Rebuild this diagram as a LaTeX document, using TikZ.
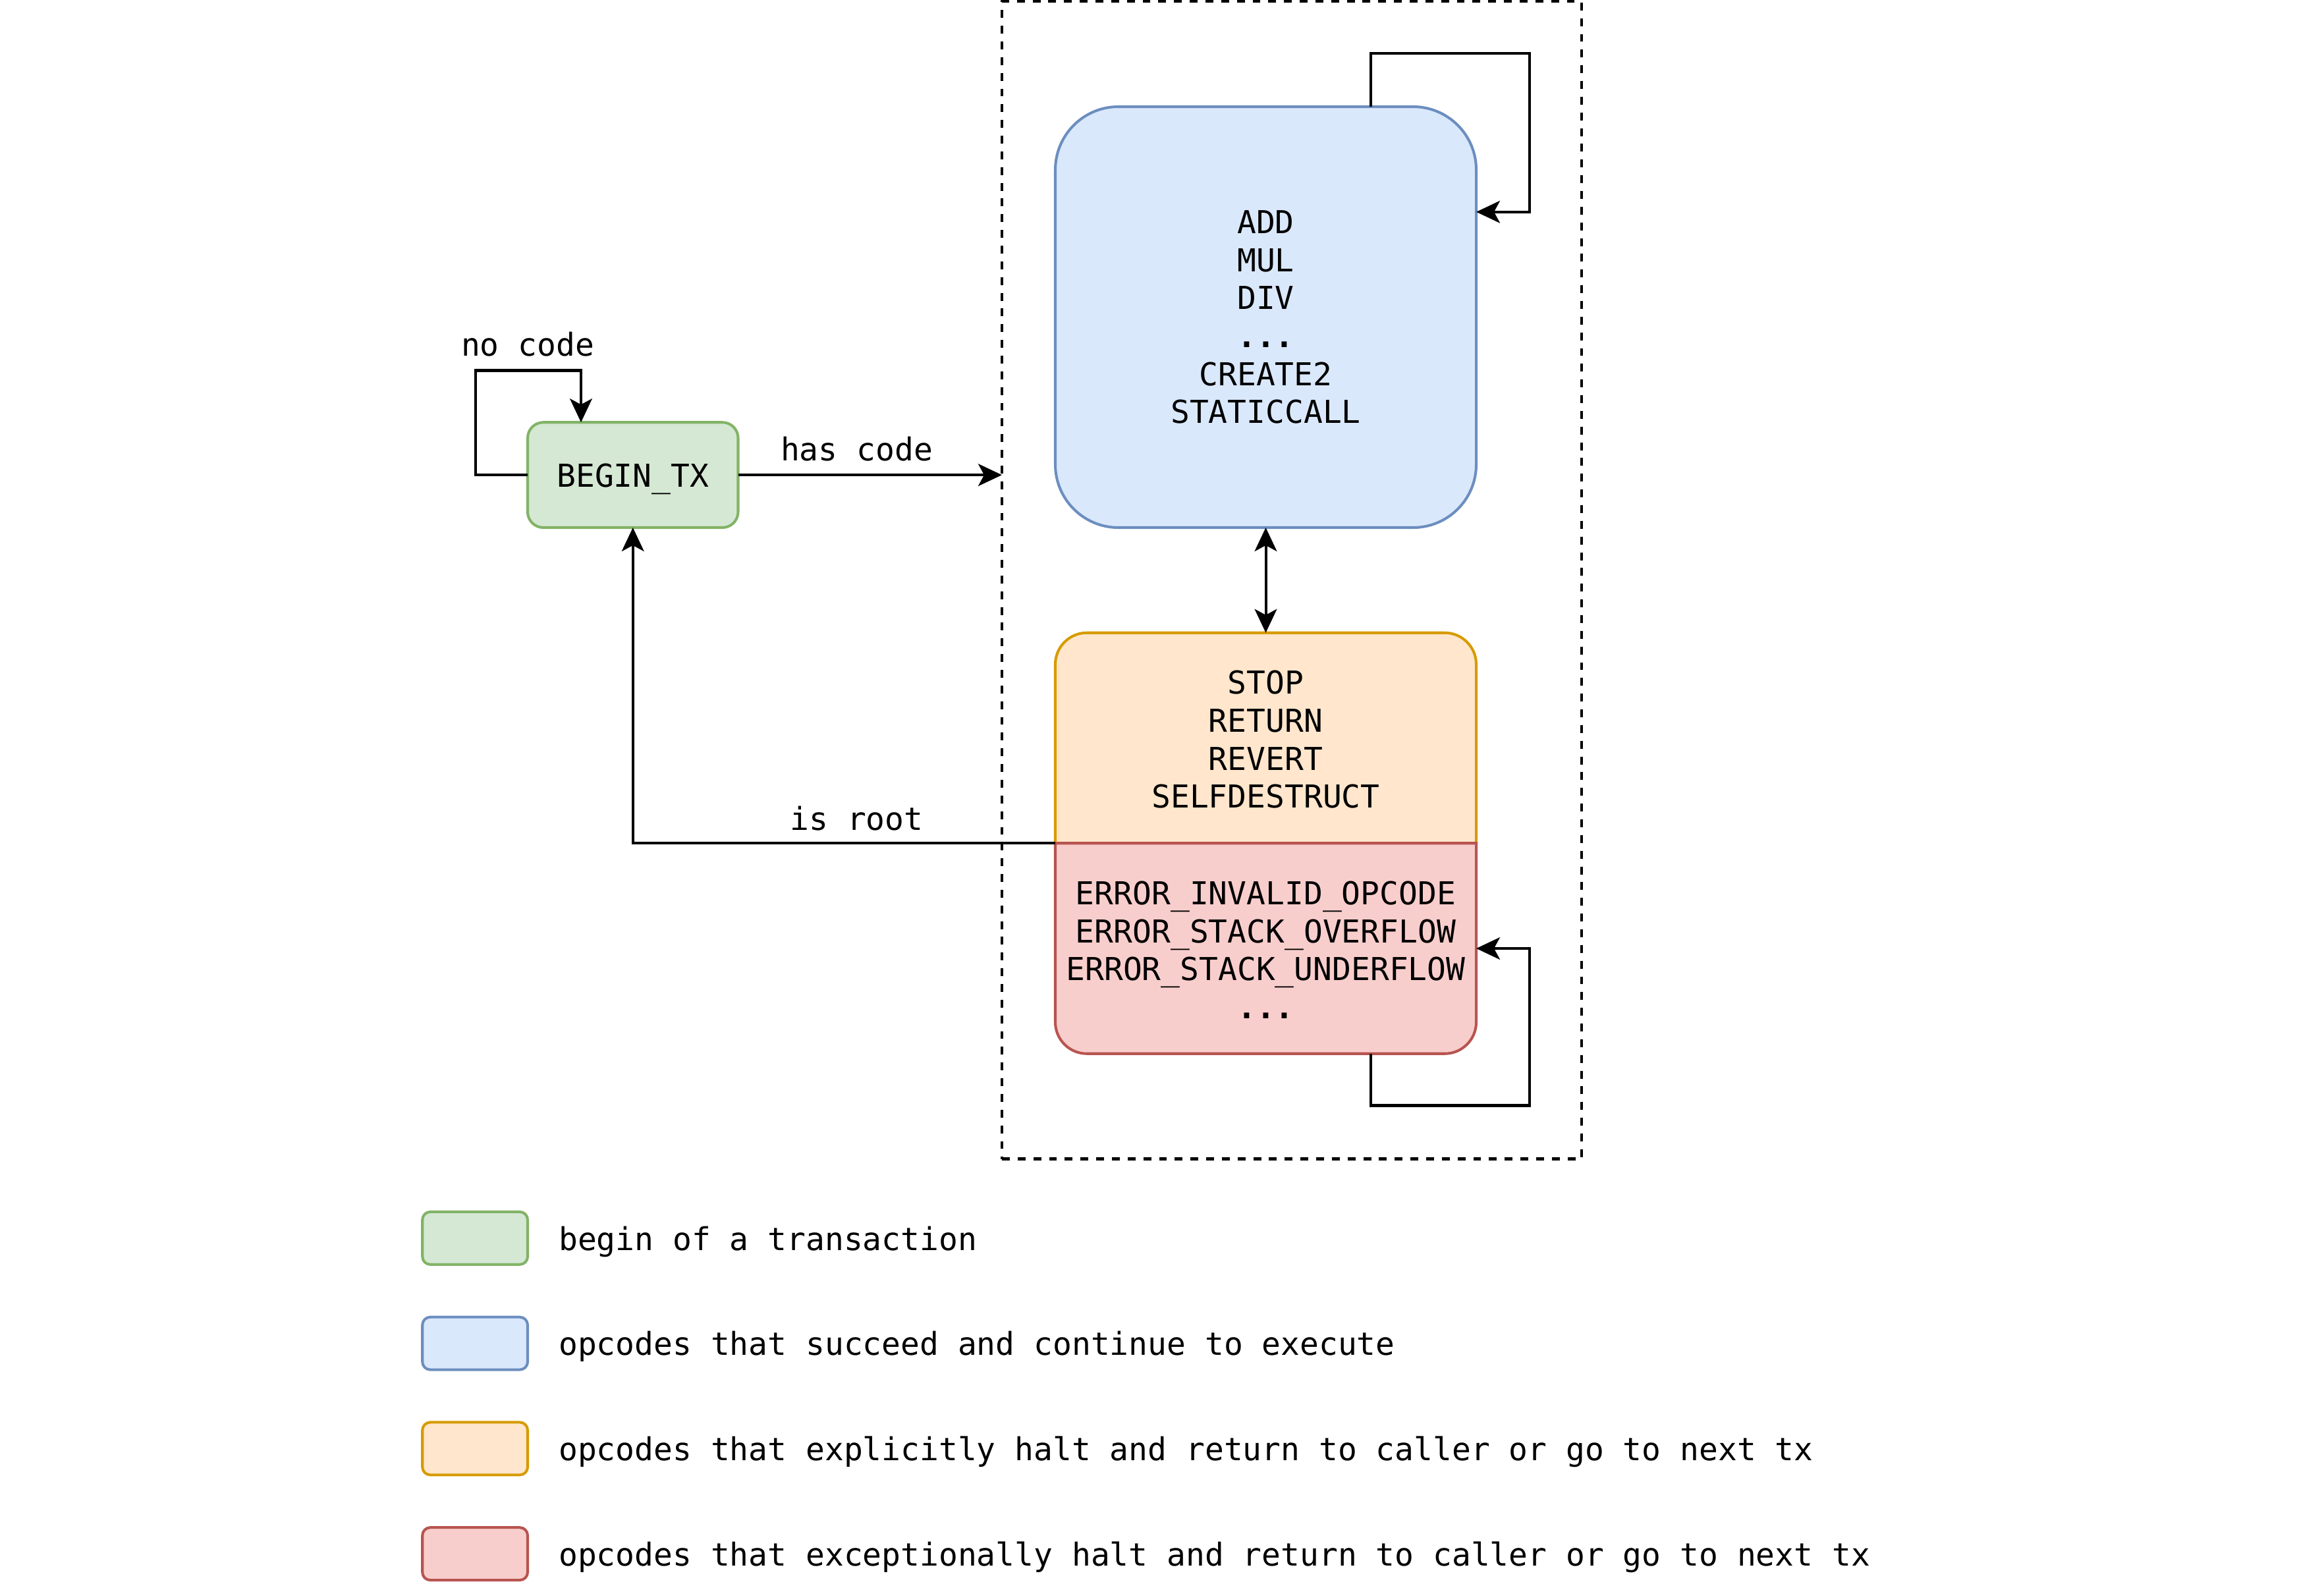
\documentclass[tikz,border=0pt]{standalone}
\usepackage{fontspec}
\setmainfont{DejaVu Sans Mono}
\setmonofont{DejaVu Sans Mono}
\usetikzlibrary{arrows.meta,calc}
\definecolor{gfill}{HTML}{D5E8D4}\definecolor{gline}{HTML}{82B366}
\definecolor{bfill}{HTML}{DAE8FC}\definecolor{bline}{HTML}{6C8EBF}
\definecolor{ofill}{HTML}{FFE6CC}\definecolor{oline}{HTML}{D79B00}
\definecolor{rfill}{HTML}{F8CECC}\definecolor{rline}{HTML}{B85450}
\begin{document}
\begin{tikzpicture}[x=1pt,y=-1pt,
  every node/.style={font=\fontsize{21.3}{25.6}\selectfont, inner sep=0pt, outer sep=0pt},
  wire/.style={line width=1.8pt, draw=black},
  arr/.style={wire, -{Stealth[length=16pt,width=15pt,inset=4pt]}},
  arrboth/.style={wire, {Stealth[length=16pt,width=15pt,inset=4pt]}-{Stealth[length=16pt,width=15pt,inset=4pt]}},
  oneline/.style={text height=16.2pt, text depth=0pt},
  gbox/.style={draw=gline, fill=gfill, line width=1.8pt, rounded corners=10.6pt, oneline},
  bbox/.style={draw=bline, fill=bfill, line width=1.8pt, rounded corners=42.6pt},
  obox/.style={draw=oline, fill=ofill, line width=1.8pt},
  rbox/.style={draw=rline, fill=rfill, line width=1.8pt},
  lbl/.style={oneline},
  legbox/.style={minimum width=71pt, minimum height=35.5pt, line width=1.8pt, rounded corners=5.3pt},
  legtxt/.style={anchor=west, oneline},
  container/.style={draw=black, line width=1.8pt, dash pattern=on 5.3pt off 5.3pt, minimum width=391pt, minimum height=781pt}
]
\useasboundingbox (0,0) rectangle (1568,1070.2);

% container
\node[container] (box) at (871.5,391.5) {};

% nodes
\node[gbox, minimum width=142pt, minimum height=71pt] (tx) at (427,320.5) {BEGIN\_TX};
\node[bbox, minimum width=284pt, minimum height=284pt, align=center] (ops) at (854,214) {ADD\\MUL\\DIV\\\textbf{...}\\CREATE2\\STATICCALL};
\node[minimum width=284pt, minimum height=142pt] (halt) at (854,498) {};
\node[minimum width=284pt, minimum height=142pt] (err) at (854,640) {};

% halt / error shapes
\path[obox] (halt.south west) -- ([yshift=-21.3pt]halt.north west)
  arc[start angle=180, end angle=90, radius=21.3pt]
  -- ([xshift=-21.3pt]halt.north east)
  arc[start angle=90, end angle=0, radius=21.3pt]
  -- (halt.south east) -- cycle;
\path[rbox] (err.north west) -- ([yshift=21.3pt]err.south west)
  arc[start angle=180, end angle=270, radius=21.3pt]
  -- ([xshift=-21.3pt]err.south east)
  arc[start angle=270, end angle=360, radius=21.3pt]
  -- (err.north east) -- cycle;
\node[align=center] (halttxt) at ([yshift=-1pt]halt.center) {STOP\\RETURN\\REVERT\\SELFDESTRUCT};
\node[align=center] (errtxt) at ([yshift=-1pt]err.center) {ERROR\_INVALID\_OPCODE\\ERROR\_STACK\_OVERFLOW\\ERROR\_STACK\_UNDERFLOW\\\textbf{...}};

% connectors
\draw[arr] (tx.west) -- ++(-35,0) -- ++(0,-70.5) -- ++(71,0) -- ([xshift=-35pt]tx.north);
\node[lbl] (nocode) at (356,232) {no code};

\draw[arr] (tx.east) -- (tx.east -| box.west);
\node[lbl] (hascode) at (578,303) {has code};

\draw[arr] ([xshift=71pt]ops.north) -- ++(0,-36) -- ++(107,0) -- ++(0,107) -- ([yshift=71pt]ops.east);
\draw[arrboth] (ops.south) -- (halt.north);
\draw[arr] ([xshift=71pt]err.south) -- ++(0,35) -- ++(107,0) -- ++(0,-106) -- (err.east);

\draw[arr] (err.north west) -| (tx.south);
\node[lbl] (isroot) at (578,552) {is root};

% legend
\node[legbox, draw=gline, fill=gfill] (lg1) at (320.5,835.5) {};
\node[legbox, draw=bline, fill=bfill] (lg2) at (320.5,906.5) {};
\node[legbox, draw=oline, fill=ofill] (lg3) at (320.5,977.5) {};
\node[legbox, draw=rline, fill=rfill] (lg4) at (320.5,1048.5) {};
\node[legtxt] (lt1) at (377,835.5) {begin of a transaction};
\node[legtxt] (lt2) at (377,906.5) {opcodes that succeed and continue to execute};
\node[legtxt] (lt3) at (377,977.5) {opcodes that explicitly halt and return to caller or go to next tx};
\node[legtxt] (lt4) at (377,1048.5) {opcodes that exceptionally halt and return to caller or go to next tx};
\end{tikzpicture}
\end{document}
